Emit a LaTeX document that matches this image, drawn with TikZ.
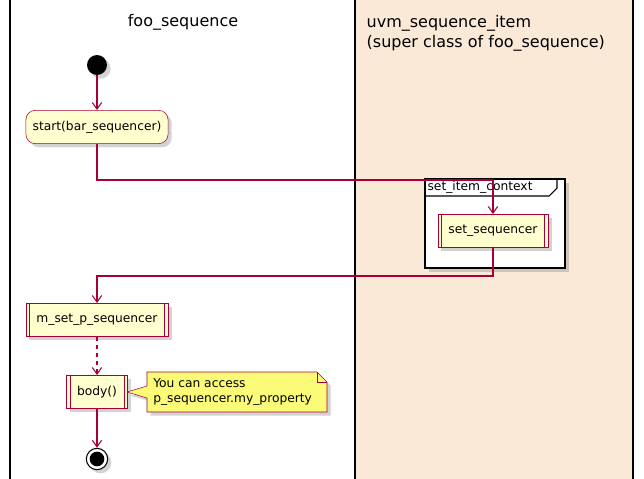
\documentclass[tikz,border=0pt]{standalone}
\usepackage{fontspec}
\setmainfont{DejaVu Sans}
\usetikzlibrary{positioning,shadows,arrows.meta,calc}
\definecolor{boxfill}{HTML}{FEFECE}
\definecolor{boxline}{HTML}{A80036}
\definecolor{notefill}{HTML}{FBFB77}
\definecolor{lanefill}{HTML}{FAE9D6}

\begin{document}
\begin{tikzpicture}
	[   x=0.75pt,y=-0.75pt,
		act/.style={draw=boxline,fill=boxfill,rounded corners=7pt,minimum height=25pt,inner xsep=5pt,font=\fontsize{9.2}{11}\selectfont,drop shadow={opacity=0.35}},
		sub/.style={draw=boxline,fill=boxfill,minimum height=25pt,inner xsep=8pt,font=\fontsize{9.2}{11}\selectfont,drop shadow={opacity=0.35},
			append after command={\pgfextra{\let\mainnode=\tikzlastnode}
				(\mainnode.north west) ++(3pt,0) edge[draw=boxline,-] ($(\mainnode.south west)+(3pt,0)$)
				(\mainnode.north east) ++(-3pt,0) edge[draw=boxline,-] ($(\mainnode.south east)+(-3pt,0)$)}},
		flow/.style={draw=boxline,line width=0.8pt,-{Straight Barb[length=5pt,width=7pt]}},
		title/.style={font=\fontsize{12}{15}\selectfont,align=left},
	]
	\useasboundingbox (0,0) rectangle (644,479);
	% swimlanes
	\fill[lanefill] (355,0) rectangle (633,479);
	\foreach \x in {10,355,633}
		\draw[line width=0.9pt] (\x,0) -- (\x,479);
	\node[title] (t-1) at (183,22) {foo\_sequence};
	\node[title,anchor=west] (t-2) at (362,33) {uvm\_sequence\_item\\(super class of foo\_sequence)};

	% group frame
	\draw[line width=1pt,fill=white,drop shadow={opacity=0.35}] (425,179) rectangle (565,268);
	\draw[line width=0.8pt] (425,196) -- (549,196) -- (557,188) -- (557,179);
	\node[anchor=west,inner sep=1pt,font=\fontsize{9.2}{11}\selectfont] (g) at (426,187) {set\_item\_context};

	\node[circle,fill=black,minimum size=15pt,inner sep=0pt,drop shadow={opacity=0.35}] (start) at (97,65) {};
	\node[act] (a-1) at (97,127) {start(bar\_sequencer)};
	\node[sub] (a-2) at (493,231) {set\_sequencer};
	\node[sub] (a-3) at (97,320) {m\_set\_p\_sequencer};
	\node[sub] (a-4) at (97,392) {body()};
	\node[circle,draw=black,line width=0.8pt,fill=white,minimum size=16pt,inner sep=0pt,drop shadow={opacity=0.35}] (stop) at (97,459) {};
	\fill[black] (stop) circle (5.5pt);

	% note
	\draw[boxline,fill=notefill,drop shadow={opacity=0.35}] (147,372) -- (317,372) -- (327,382) -- (327,412) -- (147,412) -- (147,398) -- (127,392) -- (147,386) -- cycle;
	\draw[boxline] (317,372) -- (317,382) -- (327,382);
	\node[anchor=west,align=left,inner sep=0pt,font=\fontsize{9.2}{11}\selectfont] (note) at (153,392) {You can access\\p\_sequencer.my\_property};

	% connectors
	\draw[flow] (start) -- (a-1);
	\draw[flow] (a-1.south) |- (493,180) -- (a-2.north);
	\draw[flow] (a-2.south) |- (97,276) -- (a-3.north);
	\draw[flow,dashed] (a-3) -- (a-4);
	\draw[flow] (a-4) -- (stop);
\end{tikzpicture}
\end{document}
